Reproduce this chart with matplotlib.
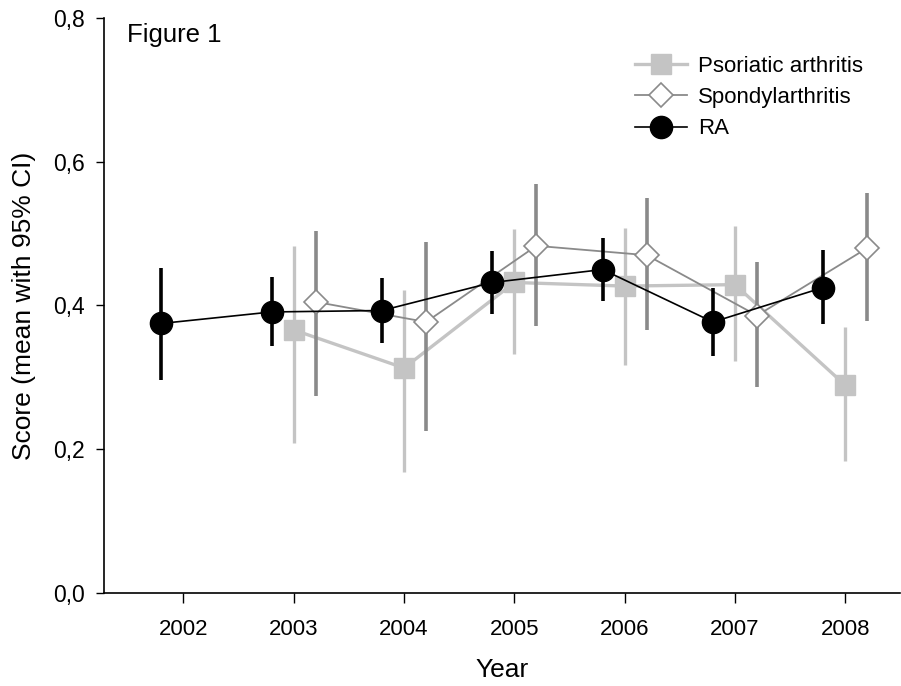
import numpy as np
import matplotlib
matplotlib.use("Agg")
import matplotlib.pyplot as plt

plt.rcParams["font.family"] = ["Liberation Sans", "DejaVu Sans"]

# ---- data ----
ra_years = np.array([2002, 2003, 2004, 2005, 2006, 2007, 2008])
ra_mean = [0.375, 0.391, 0.393, 0.432, 0.450, 0.377, 0.425]
ra_low = [0.296, 0.343, 0.348, 0.388, 0.406, 0.330, 0.374]
ra_high = [0.452, 0.439, 0.438, 0.476, 0.494, 0.424, 0.477]

psa_years = np.array([2003, 2004, 2005, 2006, 2007, 2008])
psa_mean = [0.366, 0.313, 0.432, 0.427, 0.429, 0.289]
psa_low = [0.208, 0.169, 0.333, 0.317, 0.323, 0.183]
psa_high = [0.483, 0.422, 0.506, 0.508, 0.511, 0.370]

spa_years = np.array([2003, 2004, 2005, 2006, 2007, 2008])
spa_mean = [0.405, 0.377, 0.483, 0.470, 0.386, 0.480]
spa_low = [0.274, 0.226, 0.372, 0.366, 0.286, 0.378]
spa_high = [0.503, 0.489, 0.569, 0.549, 0.461, 0.556]

yticks = [0.0, 0.2, 0.4, 0.6, 0.8]
ytick_labels = ["0,0", "0,2", "0,4", "0,6", "0,8"]

# ---- plot ----
fig = plt.figure(figsize=(9.01, 6.86), dpi=100)
ax = fig.add_axes([0.1154, 0.1356, 0.884, 0.8382])

# Psoriatic arthritis (centered on year)
ax.vlines(psa_years, psa_low, psa_high, color="#c4c4c4", lw=2.4, zorder=1)
ax.plot(psa_years, psa_mean, color="#c4c4c4", lw=2.4, marker="s", ms=14,
        mfc="#c4c4c4", mec="#c4c4c4", label="Psoriatic arthritis", zorder=2)

# Spondylarthritis (shifted right)
ax.vlines(spa_years + 0.2, spa_low, spa_high, color="#8a8a8a", lw=2.6, zorder=3)
ax.plot(spa_years + 0.2, spa_mean, color="#8a8a8a", lw=1.3, marker="D", ms=12.5,
        mfc="white", mec="#8a8a8a", mew=1.2, label="Spondylarthritis", zorder=4)

# RA (shifted left)
ax.vlines(ra_years - 0.2, ra_low, ra_high, color="black", lw=2.6, zorder=5)
ax.plot(ra_years - 0.2, ra_mean, color="black", lw=1.2, marker="o", ms=16,
        mfc="black", mec="black", label="RA", zorder=6)

ax.set_xlim(2001.28, 2008.5)
ax.set_ylim(0, 0.8)
ax.set_xticks(ra_years)
ax.set_xticklabels([str(y) for y in ra_years], fontsize=16)
ax.set_yticks(yticks)
ax.set_yticklabels(ytick_labels, fontsize=16.5)
ax.tick_params(axis="x", direction="out", length=7, width=1, pad=12)
ax.tick_params(axis="y", direction="out", length=6, width=1, pad=8)

for side in ["top", "right"]:
    ax.spines[side].set_visible(False)
ax.spines["left"].set_linewidth(1.2)
ax.spines["bottom"].set_linewidth(1.2)

ax.set_xlabel("Year", fontsize=19, labelpad=13)
ax.set_ylabel("Score (mean with 95% CI)", fontsize=19, labelpad=12)

ax.text(127 / 901, 1 - 42 / 686, "Figure 1", transform=fig.transFigure,
        fontsize=18.5, ha="left", va="baseline")

ax.legend(loc="upper left", bbox_to_anchor=(635 / 901, 1 - 56 / 686),
          bbox_transform=fig.transFigure, frameon=False, fontsize=16,
          handlelength=2.35, handletextpad=0.5, labelspacing=0.46,
          borderpad=0, borderaxespad=0)

fig.savefig("out.png", dpi=100)
